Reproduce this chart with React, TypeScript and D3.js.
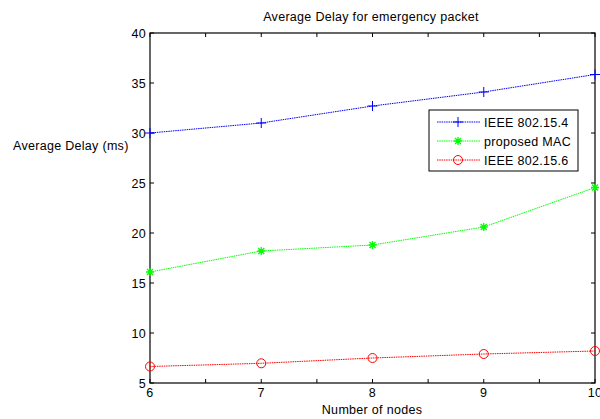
import React from "react";
import * as d3 from "d3";

const nodes = [6, 7, 8, 9, 10];
const ieee154 = [30.0, 31.0, 32.7, 34.1, 35.85];
const proposedMac = [16.1, 18.2, 18.8, 20.6, 24.55];
const ieee156 = [6.65, 6.97, 7.5, 7.9, 8.2];
const xTicks = [6, 6.5, 7, 7.5, 8, 8.5, 9, 9.5, 10];
const yTicks = [5, 10, 15, 20, 25, 30, 35, 40];
const seriesNames = ["IEEE 802.15.4", "proposed MAC", "IEEE 802.15.6"];

const W = 600, H = 419;
const L = 150, R = 595, T = 33, B = 383;
const font = "Liberation Sans, Arial, sans-serif";
const FS = 12.5;
const LS = 0.3;

function Marker({ kind, x, y, color }: { kind: string; x: number; y: number; color: string }) {
  if (kind === "plus") {
    return <path d={`M${x - 5},${y}H${x + 5}M${x},${y - 5}V${y + 5}`} stroke={color} strokeWidth={1} fill="none" />;
  }
  if (kind === "star") {
    return (
      <path
        d={`M${x - 4},${y}H${x + 4}M${x},${y - 4}V${y + 4}M${x - 3},${y - 3}L${x + 3},${y + 3}M${x - 3},${y + 3}L${x + 3},${y - 3}`}
        stroke={color}
        strokeWidth={1.3}
        fill="none"
      />
    );
  }
  return <circle cx={x} cy={y} r={4.5} stroke={color} strokeWidth={1} fill="none" />;
}

export default function App() {
  const x = d3.scaleLinear().domain([6, 10]).range([L, R]);
  const y = d3.scaleLinear().domain([5, 40]).range([B, T]);
  const series = [
    { name: seriesNames[0], values: ieee154, color: "#0000ff", kind: "plus" },
    { name: seriesNames[1], values: proposedMac, color: "#00ff00", kind: "star" },
    { name: seriesNames[2], values: ieee156, color: "#ff0000", kind: "circle" },
  ];
  const line = d3
    .line<number>()
    .x((_, i) => x(nodes[i]))
    .y((d) => y(d));

  const legX = 429, legY = 110, legW = 149, legH = 61;
  const rowY = [122, 141, 160];

  return (
    <svg width={W} height={H} style={{ position: "absolute", left: 0, top: 0, background: "#fff" }} fontFamily={font} letterSpacing={LS}>
      <rect x={0} y={0} width={W} height={H} fill="#fff" />
      <rect x={L} y={T} width={R - L} height={B - T} fill="none" stroke="#000" strokeWidth={1.2} />
      {xTicks.map((t) => (
        <g key={"x" + t}>
          <line x1={x(t)} x2={x(t)} y1={B} y2={B - 4} stroke="#000" />
          <line x1={x(t)} x2={x(t)} y1={T} y2={T + 4} stroke="#000" />
          {Number.isInteger(t) && (
            <text x={x(t)} y={B + 14} fontSize={FS} textAnchor="middle" fill="#000">
              {t}
            </text>
          )}
        </g>
      ))}
      {yTicks.map((t) => (
        <g key={"y" + t}>
          <line x1={L} x2={L + 4} y1={y(t)} y2={y(t)} stroke="#000" />
          <line x1={R} x2={R - 4} y1={y(t)} y2={y(t)} stroke="#000" />
          <text x={L - 4} y={y(t) + 4.5} fontSize={FS} textAnchor="end" fill="#000">
            {t}
          </text>
        </g>
      ))}
      {series.map((s) => (
        <g key={s.name}>
          <path d={line(s.values) || ""} fill="none" stroke={s.color} strokeWidth={1} strokeDasharray="1.5,0.8" />
          {s.values.map((v, i) => (
            <Marker key={i} kind={s.kind} x={x(nodes[i])} y={y(v)} color={s.color} />
          ))}
        </g>
      ))}
      <rect x={legX} y={legY} width={legW} height={legH} fill="#fff" stroke="#000" strokeWidth={1} />
      {series.map((s, i) => (
        <g key={"leg" + i}>
          <line x1={437} x2={480} y1={rowY[i]} y2={rowY[i]} stroke={s.color} strokeDasharray="1.5,0.8" />
          <Marker kind={s.kind} x={458} y={rowY[i]} color={s.color} />
          <text x={484} y={rowY[i] + 4.5} fontSize={FS} fill="#000">
            {s.name}
          </text>
        </g>
      ))}
      <text x={371} y={21} fontSize={FS} textAnchor="middle" fill="#000">
        Average Delay for emergency packet
      </text>
      <text x={372} y={414} fontSize={FS} textAnchor="middle" fill="#000">
        Number of nodes
      </text>
      <text x={13} y={150} fontSize={FS} fill="#000">
        Average Delay (ms)
      </text>
    </svg>
  );
}
